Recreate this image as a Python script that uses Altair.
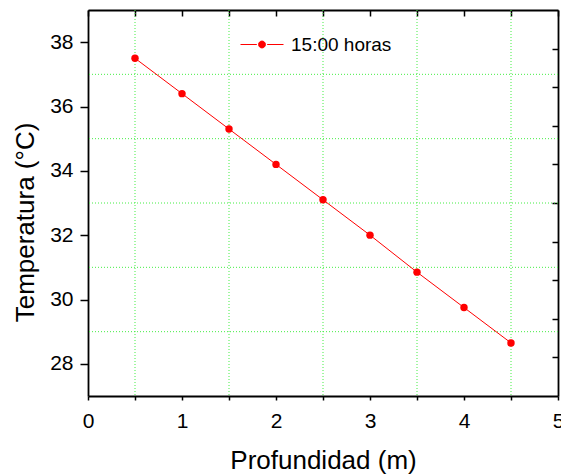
import altair as alt
import pandas as pd

# Data
profundidad = [0.5, 1.0, 1.5, 2.0, 2.5, 3.0, 3.5, 4.0, 4.5]
temperatura = [37.5, 36.4, 35.3, 34.2, 33.1, 32.0, 30.85, 29.75, 28.65]
serie = ["15:00 horas"] * len(profundidad)

x_ticks = [0, 0.5, 1, 1.5, 2, 2.5, 3, 3.5, 4, 4.5, 5]
y_ticks = [28, 30, 32, 34, 36, 38]
x_grid = [0.5, 1.5, 2.5, 3.5, 4.5]
y_grid = [29, 31, 33, 35, 37]
y_right_ticks = [28.2, 29.4, 30.6, 31.8, 33.0, 34.2, 35.4, 36.6, 37.8]

df = pd.DataFrame({"profundidad": profundidad, "temperatura": temperatura, "serie": serie})
df_xgrid = pd.DataFrame({"profundidad": x_grid})
df_ygrid = pd.DataFrame({"temperatura": y_grid})

FONT = "Liberation Sans"
GRID = "#44ee44"
RED = "#ff0000"

xscale = alt.Scale(domain=[0, 5], nice=False, zero=False)
yscale = alt.Scale(domain=[27, 39], nice=False, zero=False)

x_main_axis = alt.Axis(
    orient="bottom",
    values=x_ticks,
    labelExpr="datum.value % 1 === 0 ? format(datum.value, 'd') : ''",
    title="Profundidad (m)",
    titleFont=FONT, titleFontSize=26, titleFontWeight="normal", titleColor="black",
    titleBaseline="alphabetic", titleY=72,
    labelFont=FONT, labelFontSize=21, labelColor="black", labelPadding=10,
    labelOverlap=False, labelFlush=False,
    tickSize=4, tickWidth=1.5, tickColor="black",
    domainColor="black", domainWidth=1.8, grid=False,
)

y_main_axis = alt.Axis(
    orient="left",
    values=y_ticks, format="d",
    title="Temperatura (°C)",
    titleFont=FONT, titleFontSize=26, titleFontWeight="normal", titleColor="black",
    titleBaseline="alphabetic", titleX=-55, titleY=212,
    labelFont=FONT, labelFontSize=21, labelColor="black", labelPadding=7,
    labelOverlap=False, labelFlush=False,
    tickSize=8, tickWidth=1.5, tickColor="black",
    domainColor="black", domainWidth=1.8, grid=False,
)

legend = alt.Legend(
    title=None, orient="none", legendX=152, legendY=12.5, padding=0,
    symbolType="M-1,0H-0.24M0.24,0H1M0.16,0A0.16,0.16,0,1,1,-0.16,0A0.16,0.16,0,1,1,0.16,0Z",
    symbolSize=1849, symbolStrokeWidth=1, symbolStrokeColor=RED, symbolFillColor=RED,
    labelFont=FONT, labelFontSize=19, labelColor="black", labelOffset=7,
)

color = alt.Color("serie:N", scale=alt.Scale(range=[RED]), legend=legend)

# dotted green gridlines at the half / odd positions
xgrid = alt.Chart(df_xgrid).mark_rule(color=GRID, strokeDash=[1, 2], strokeWidth=1).encode(
    x=alt.X("profundidad:Q", scale=xscale, axis=x_main_axis),
)
ygrid = alt.Chart(df_ygrid).mark_rule(color=GRID, strokeDash=[1, 2], strokeWidth=1).encode(
    y=alt.Y("temperatura:Q", scale=yscale, axis=y_main_axis),
)

base = alt.Chart(df)

line = base.mark_line(strokeWidth=1).encode(
    x=alt.X("profundidad:Q", scale=xscale, axis=x_main_axis),
    y=alt.Y("temperatura:Q", scale=yscale, axis=y_main_axis),
    color=color,
)
pts = base.mark_point(filled=True, size=55, opacity=1).encode(
    x=alt.X("profundidad:Q", scale=xscale, axis=x_main_axis),
    y=alt.Y("temperatura:Q", scale=yscale, axis=y_main_axis),
    color=color,
)
inner = alt.layer(xgrid, ygrid, line, pts)

frame = base.mark_point(opacity=0).encode(
    x=alt.X("profundidad:Q", scale=xscale, axis=alt.Axis(
        orient="bottom", offset=-386, values=x_ticks, labels=False, title=None,
        tickSize=6, tickWidth=1.5, tickColor="black", domainColor="black",
        domainWidth=1.8, grid=False)),
    y=alt.Y("temperatura:Q", scale=yscale, axis=alt.Axis(
        orient="left", offset=-470, values=y_right_ticks, labels=False, title=None,
        tickSize=6, tickWidth=1.5, tickColor="black", domainColor="black",
        domainWidth=1.8, grid=False)),
)

chart = alt.layer(inner, frame).resolve_scale(
    x="independent", y="independent"
).properties(
    width=470, height=386,
    autosize=alt.AutoSizeParams(type="none"),
    padding={"left": 88, "top": 10, "right": 3, "bottom": 78},
    background="white",
).configure_view(stroke=None).configure_axis(grid=False)

chart.save("out.html", embed_options={"renderer": "svg", "actions": False})
